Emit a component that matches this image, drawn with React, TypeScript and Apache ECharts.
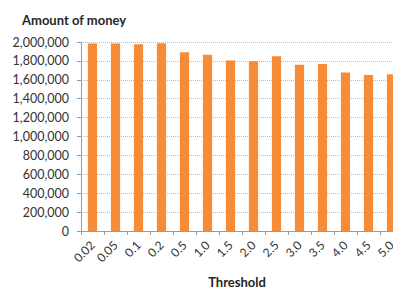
import React, { useEffect, useRef } from "react";
import * as echarts from "echarts";

const categories = ["0.02", "0.05", "0.1", "0.2", "0.5", "1.0", "1.5", "2.0", "2.5", "3.0", "3.5", "4.0", "4.5", "5.0"];
const amounts = [1985000, 1985000, 1975000, 1988000, 1892000, 1866000, 1804000, 1797000, 1850000, 1760000, 1766000, 1676000, 1650000, 1660000];
const yTicks = [0, 200000, 400000, 600000, 800000, 1000000, 1200000, 1400000, 1600000, 1800000, 2000000];

const FONT = "Lato, 'Open Sans', sans-serif";

export default function App() {
  const ref = useRef<HTMLDivElement>(null);
  useEffect(() => {
    if (!ref.current) return;
    const chart = echarts.init(ref.current, null, { renderer: "svg" });
    chart.setOption({
      animation: false,
      backgroundColor: "#ffffff",
      title: {
        text: "Amount of money",
        left: 17,
        top: 8,
        textStyle: { fontFamily: FONT, fontSize: 13, fontWeight: "bold", color: "#262626" },
      },
      grid: { left: 81, top: 42, right: 7, bottom: 58, containLabel: false },
      xAxis: {
        type: "category",
        data: categories,
        name: "Threshold",
        nameLocation: "middle",
        nameGap: 44,
        nameTextStyle: { fontFamily: FONT, fontSize: 13, fontWeight: "bold", color: "#262626", padding: [0, 10, 0, 0] },
        axisLine: { lineStyle: { color: "#9a9a9a", width: 1 } },
        axisTick: { show: true, length: 4, lineStyle: { color: "#9a9a9a" } },
        axisLabel: { rotate: 45, fontFamily: FONT, fontSize: 12, color: "#333333", margin: 12 },
      },
      yAxis: {
        type: "value",
        min: 0,
        max: yTicks[yTicks.length - 1],
        interval: 200000,
        axisLine: { show: true, lineStyle: { color: "#9a9a9a", width: 1 } },
        axisTick: { show: true, length: 4, lineStyle: { color: "#9a9a9a" } },
        axisLabel: {
          fontFamily: FONT,
          fontSize: 12.5,
          color: "#333333",
          margin: 12,
          formatter: (v: number) => v.toLocaleString("en-US"),
        },
        splitLine: { show: true, lineStyle: { color: "#bdbdbd", type: "dotted", width: 1 } },
      },
      series: [
        {
          type: "bar",
          data: amounts,
          barWidth: "40%",
          itemStyle: { color: "#F68B38" },
        },
      ],
    });
    return () => chart.dispose();
  }, []);
  return (
    <div style={{ position: "fixed", left: 0, top: 0, width: 393, height: 293, overflow: "hidden", background: "#fff" }}>
      <div ref={ref} style={{ width: 410, height: 293 }} />
    </div>
  );
}
